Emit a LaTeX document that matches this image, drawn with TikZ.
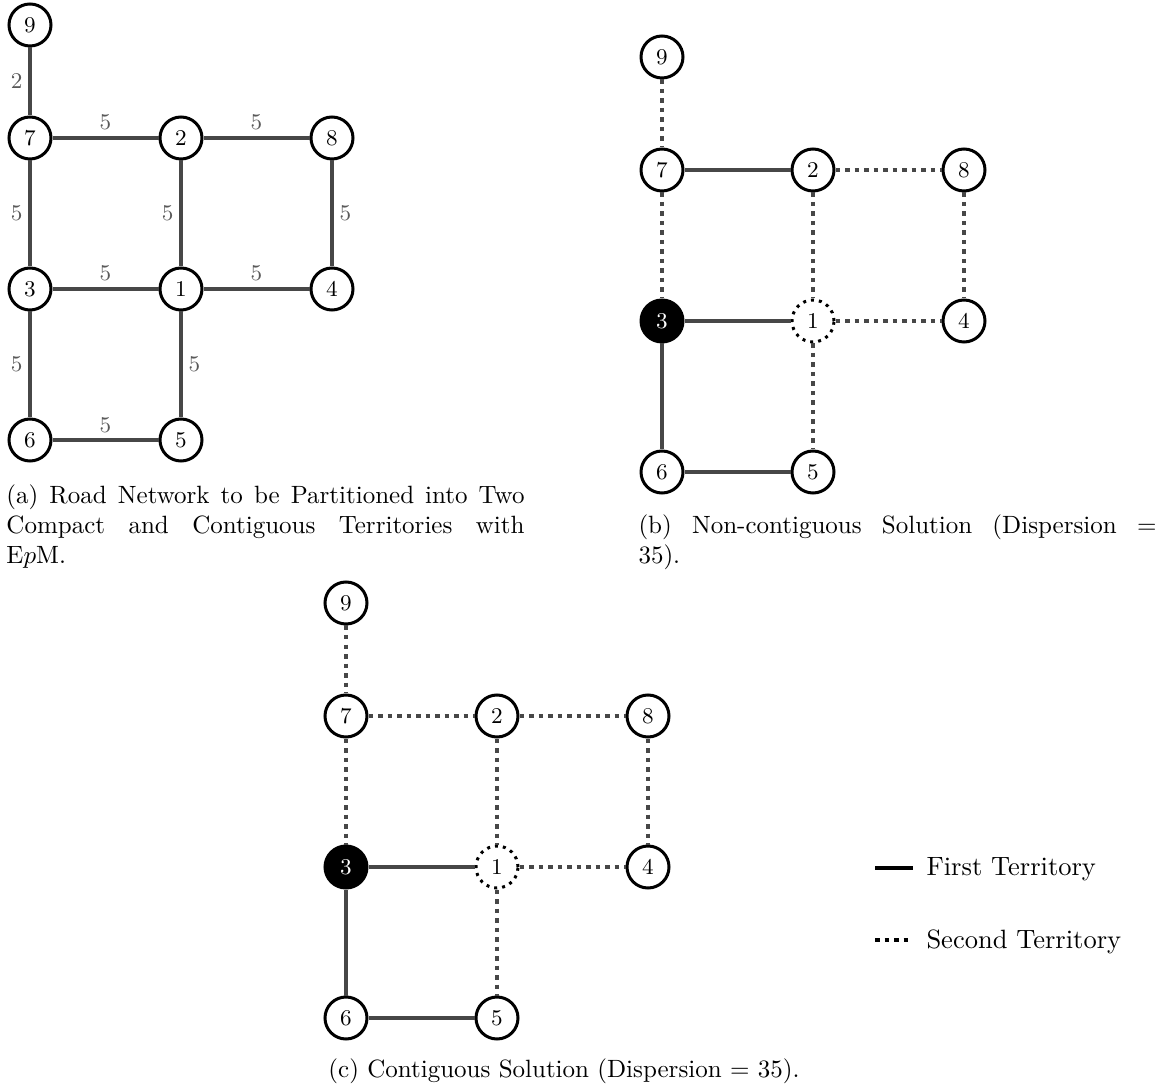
\documentclass[tikz,border=0pt]{standalone}
\begin{document}
\begin{tikzpicture}[x=0.4pt,y=-0.4pt,
  vtx/.style={circle,draw=black,line width=1.2pt,fill=white,minimum size=16.8pt,inner sep=0pt,font=\small},
  depot/.style={vtx,fill=black,text=white},
  opendepot/.style={vtx,dotted},
  road/.style={line width=1.8pt,draw=black!72},
  second/.style={road,dotted},
  wlab/.style={font=\small,text=black!65,inner sep=2.1pt},
  capt/.style={inner sep=0pt,text width=207.2pt,align=justify,anchor=base west},
  legtext/.style={anchor=base west,inner sep=0pt,font=\fontsize{10.6pt}{13pt}\selectfont},
  legsolid/.style={line width=1.8pt,draw=black},
  legdot/.style={line width=1.8pt,draw=black,dotted},
]
\useasboundingbox (0,0) rectangle (1159,1090);

% ---------- (a) ----------
\node[vtx] (a9) at (30,25) {9};
\node[vtx] (a7) at (30,138) {7};
\node[vtx] (a2) at (181,138) {2};
\node[vtx] (a8) at (332,138) {8};
\node[vtx] (a3) at (30,289) {3};
\node[vtx] (a1) at (181,289) {1};
\node[vtx] (a4) at (332,289) {4};
\node[vtx] (a6) at (30,440) {6};
\node[vtx] (a5) at (181,440) {5};
\draw[road] (a9) -- node[wlab,left] {2} (a7);
\draw[road] (a7) -- node[wlab,above] {5} (a2);
\draw[road] (a2) -- node[wlab,above] {5} (a8);
\draw[road] (a7) -- node[wlab,left] {5} (a3);
\draw[road] (a2) -- node[wlab,left] {5} (a1);
\draw[road] (a8) -- node[wlab,right] {5} (a4);
\draw[road] (a3) -- node[wlab,above] {5} (a1);
\draw[road] (a1) -- node[wlab,above] {5} (a4);
\draw[road] (a3) -- node[wlab,left] {5} (a6);
\draw[road] (a1) -- node[wlab,right] {5} (a5);
\draw[road] (a6) -- node[wlab,above] {5} (a5);

% ---------- (b) ----------
\node[vtx] (b9) at (662,57) {9};
\node[vtx] (b7) at (662,170) {7};
\node[vtx] (b2) at (813,170) {2};
\node[vtx] (b8) at (964,170) {8};
\node[depot] (b3) at (662,321) {3};
\node[opendepot] (b1) at (813,321) {1};
\node[vtx] (b4) at (964,321) {4};
\node[vtx] (b6) at (662,472) {6};
\node[vtx] (b5) at (813,472) {5};
\draw[second] (b9) -- (b7);
\draw[road] (b7) -- (b2);
\draw[second] (b2) -- (b8);
\draw[second] (b7) -- (b3);
\draw[second] (b2) -- (b1);
\draw[second] (b8) -- (b4);
\draw[road] (b3) -- (b1);
\draw[second] (b1) -- (b4);
\draw[road] (b3) -- (b6);
\draw[second] (b1) -- (b5);
\draw[road] (b6) -- (b5);

% ---------- (c) ----------
\node[vtx] (c9) at (346,603) {9};
\node[vtx] (c7) at (346,716) {7};
\node[vtx] (c2) at (497,716) {2};
\node[vtx] (c8) at (648,716) {8};
\node[depot] (c3) at (346,867) {3};
\node[opendepot] (c1) at (497,867) {1};
\node[vtx] (c4) at (648,867) {4};
\node[vtx] (c6) at (346,1018) {6};
\node[vtx] (c5) at (497,1018) {5};
\draw[second] (c9) -- (c7);
\draw[second] (c7) -- (c2);
\draw[second] (c2) -- (c8);
\draw[second] (c7) -- (c3);
\draw[second] (c2) -- (c1);
\draw[second] (c8) -- (c4);
\draw[road] (c3) -- (c1);
\draw[second] (c1) -- (c4);
\draw[road] (c3) -- (c6);
\draw[second] (c1) -- (c5);
\draw[road] (c6) -- (c5);

% ---------- legend ----------
\coordinate (l1a) at (875,868);
\coordinate (l1b) at (913,868);
\node[legtext] (l1t) at (926,875) {First Territory};
\draw[legsolid] (l1a) -- (l1b);
\coordinate (l2a) at (875,940);
\coordinate (l2b) at (913,940);
\node[legtext] (l2t) at (926,948) {Second Territory};
\draw[legdot] (l2a) -- (l2b);

% ---------- captions ----------
\node[capt] (capa) at (6,504) {(a) Road Network to be Partitioned into Two\linebreak Compact and Contiguous Territories with\linebreak E$p$M.};
\node[capt] (capb) at (638,534) {(b) Non-contiguous Solution (Dispersion $=$\linebreak 35).};
\node[anchor=base,inner sep=0pt] (capc) at (564,1077) {(c) Contiguous Solution (Dispersion $=$ 35).};
\end{tikzpicture}
\end{document}
